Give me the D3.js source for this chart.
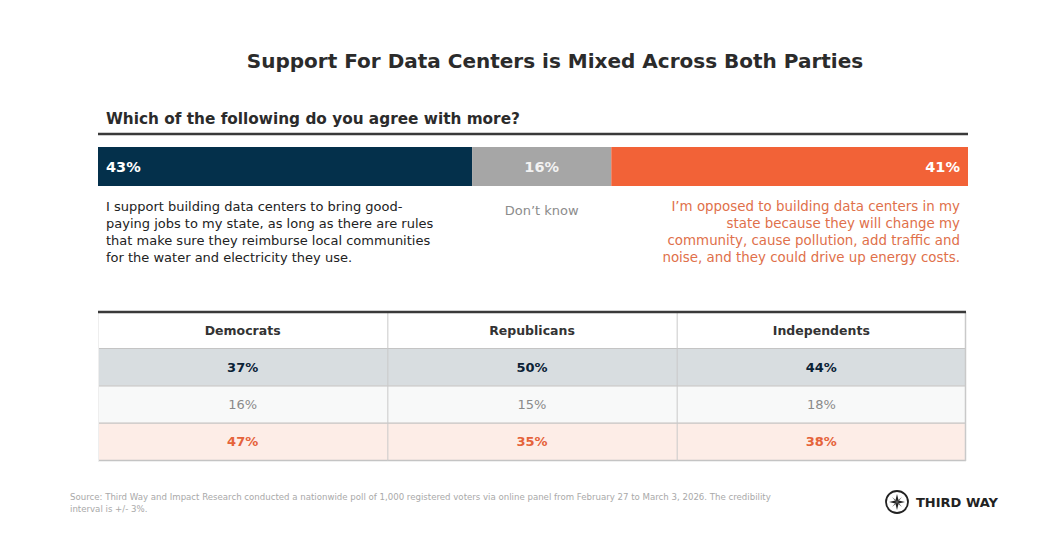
<!DOCTYPE html>
<html lang="en">
<head>
    <meta charset="utf-8" />
    <title>Support For Data Centers</title>
    <script src="https://d3js.org/d3.v7.min.js"></script>
    <style>
        body {
            margin: 0;
            padding: 0;
            background: #ffffff;
        }
        svg text {
            font-family: "DejaVu Sans", sans-serif;
        }
    </style>
</head>
<body>
<svg id="chart"></svg>
<script>
    var w = 1053;
    var h = 549;

    // Overall question results
    var answers = ["Support", "Don't know", "Oppose"];
    var overall = [43, 16, 41];
    var answerText = [
        ["I support building data centers to bring good-",
         "paying jobs to my state, as long as there are rules",
         "that make sure they reimburse local communities",
         "for the water and electricity they use."],
        ["Don\u2019t know"],
        ["I\u2019m opposed to building data centers in my",
         "state because they will change my",
         "community, cause pollution, add traffic and",
         "noise, and they could drive up energy costs."]
    ];

    // Party breakdown (support / don't know / oppose)
    var parties = ["Democrats", "Republicans", "Independents"];
    var democrats = [37, 16, 47];
    var republicans = [50, 15, 35];
    var independents = [44, 18, 38];

    var barColors = ["#04304b", "#a6a6a6", "#f26237"];
    var labelColors = ["#222222", "#8c8c8c", "#e0704a"];
    var rowFills = ["#d8dde0", "#f8f9f9", "#fdede7"];
    var rowText = ["#0b2236", "#8a8a8a", "#e5633a"];

    var svg = d3.select("#chart")
                .attr("width", w)
                .attr("height", h);

    // Title
    svg.append("text")
        .attr("x", 555)
        .attr("y", 68)
        .attr("text-anchor", "middle")
        .attr("font-size", "20px")
        .attr("font-weight", "bold")
        .attr("fill", "#2b2b2b")
        .text("Support For Data Centers is Mixed Across Both Parties");

    svg.append("text")
        .attr("x", 106)
        .attr("y", 124)
        .attr("font-size", "15.3px")
        .attr("font-weight", "bold")
        .attr("fill", "#2b2b2b")
        .text("Which of the following do you agree with more?");

    svg.append("line")
        .attr("x1", 98).attr("x2", 968)
        .attr("y1", 134).attr("y2", 134)
        .attr("stroke", "#3a3a3a")
        .attr("stroke-width", 2.5);

    // Stacked bar
    var xScale = d3.scaleLinear()
                .domain([0, d3.sum(overall)])
                .range([98, 968]);

    var stacked = [];
    var acc = 0;
    overall.forEach(function(v, i) {
        stacked.push({ name: answers[i], value: v, x0: acc, x1: acc + v, i: i });
        acc += v;
    });

    var barY = 147, barH = 39;

    svg.selectAll("rect.seg")
        .data(stacked)
        .enter().append("rect")
        .attr("class", "seg")
        .attr("x", function(d) { return xScale(d.x0); })
        .attr("y", barY)
        .attr("width", function(d) { return xScale(d.x1) - xScale(d.x0); })
        .attr("height", barH)
        .attr("fill", function(d) { return barColors[d.i]; });

    function labelX(d) {
        if (d.i === 0) return xScale(d.x0) + 8;
        if (d.i === 2) return xScale(d.x1) - 8;
        return (xScale(d.x0) + xScale(d.x1)) / 2;
    }
    function labelAnchor(d) {
        return d.i === 0 ? "start" : (d.i === 2 ? "end" : "middle");
    }

    svg.selectAll("text.seg")
        .data(stacked)
        .enter().append("text")
        .attr("class", "seg")
        .attr("x", labelX)
        .attr("y", barY + barH / 2 + 5)
        .attr("text-anchor", labelAnchor)
        .attr("font-size", "14.5px")
        .attr("font-weight", "bold")
        .attr("fill", function(d) { return d.i === 1 ? "#f2f2f2" : "#ffffff"; })
        .text(function(d) { return d.value + "%"; });

    // Answer descriptions under the bar
    var desc = svg.selectAll("text.desc")
        .data(stacked)
        .enter().append("text")
        .attr("class", "desc")
        .attr("text-anchor", labelAnchor)
        .attr("font-size", function(d) { return d.i === 2 ? "13.4px" : "13px"; })
        .attr("fill", function(d) { return labelColors[d.i]; });

    desc.selectAll("tspan")
        .data(function(d) {
            return answerText[d.i].map(function(t, k) { return { t: t, k: k, d: d }; });
        })
        .enter().append("tspan")
        .attr("x", function(e) { return labelX(e.d); })
        .attr("y", function(e) { return (e.d.i === 1 ? 215 : 211) + e.k * 17; })
        .text(function(e) { return e.t; });

    // Party table
    var rows = answers;
    var cols = d3.scaleBand()
                .domain(parties)
                .range([98, 966]);
    var rowScale = d3.scaleBand()
                .domain(rows)
                .range([348, 460]);

    var tableData = [];
    [democrats, republicans, independents].forEach(function(arr, c) {
        arr.forEach(function(v, r) {
            tableData.push({ party: parties[c], row: rows[r], r: r, value: v });
        });
    });

    // header
    svg.append("rect")
        .attr("x", 98).attr("y", 312)
        .attr("width", 868).attr("height", 36)
        .attr("fill", "#ffffff");

    svg.selectAll("rect.rowbg")
        .data(rows)
        .enter().append("rect")
        .attr("class", "rowbg")
        .attr("x", 98)
        .attr("y", function(d) { return rowScale(d); })
        .attr("width", 868)
        .attr("height", rowScale.bandwidth())
        .attr("fill", function(d, i) { return rowFills[i]; });

    // horizontal row lines
    svg.selectAll("line.hrow")
        .data(rows)
        .enter().append("line")
        .attr("class", "hrow")
        .attr("x1", 98).attr("x2", 966)
        .attr("y1", function(d) { return rowScale(d) + 0.5; })
        .attr("y2", function(d) { return rowScale(d) + 0.5; })
        .attr("stroke", "#c4c4c4")
        .attr("stroke-width", 1.2);

    svg.append("line")
        .attr("x1", 98).attr("x2", 966)
        .attr("y1", 460.5).attr("y2", 460.5)
        .attr("stroke", "#c4c4c4")
        .attr("stroke-width", 1.5);

    // vertical dividers
    svg.selectAll("line.vcol")
        .data(parties.slice(1))
        .enter().append("line")
        .attr("class", "vcol")
        .attr("x1", function(d) { return cols(d) + 0.5; })
        .attr("x2", function(d) { return cols(d) + 0.5; })
        .attr("y1", 312).attr("y2", 461)
        .attr("stroke", "#c9c9c9")
        .attr("stroke-width", 1);

    svg.append("line")
        .attr("x1", 965.5).attr("x2", 965.5)
        .attr("y1", 312).attr("y2", 461)
        .attr("stroke", "#c9c9c9")
        .attr("stroke-width", 1.5);

    svg.append("line")
        .attr("x1", 98.5).attr("x2", 98.5)
        .attr("y1", 312).attr("y2", 461)
        .attr("stroke", "#eeeeee")
        .attr("stroke-width", 1);

    svg.append("line")
        .attr("x1", 98).attr("x2", 966)
        .attr("y1", 312).attr("y2", 312)
        .attr("stroke", "#3a3a3a")
        .attr("stroke-width", 2.5);

    svg.selectAll("text.head")
        .data(parties)
        .enter().append("text")
        .attr("class", "head")
        .attr("x", function(d) { return cols(d) + cols.bandwidth() / 2; })
        .attr("y", 335)
        .attr("text-anchor", "middle")
        .attr("font-size", "12.5px")
        .attr("font-weight", "bold")
        .attr("fill", "#333333")
        .text(function(d) { return d; });

    svg.selectAll("text.cell")
        .data(tableData)
        .enter().append("text")
        .attr("class", "cell")
        .attr("x", function(d) { return cols(d.party) + cols.bandwidth() / 2; })
        .attr("y", function(d) { return rowScale(d.row) + rowScale.bandwidth() / 2 + 5; })
        .attr("text-anchor", "middle")
        .attr("font-size", "13px")
        .attr("font-weight", function(d) { return d.r === 1 ? "normal" : "bold"; })
        .attr("fill", function(d) { return rowText[d.r]; })
        .text(function(d) { return d.value + "%"; });

    // Source note
    var src = svg.append("text")
        .attr("font-size", "8.6px")
        .attr("fill", "#a9a9a9");
    src.append("tspan").attr("x", 70).attr("y", 500)
        .text("Source: Third Way and Impact Research conducted a nationwide poll of 1,000 registered voters via online panel from February 27 to March 3, 2026. The credibility");
    src.append("tspan").attr("x", 70).attr("y", 512)
        .text("interval is +/- 3%.");

    // Logo
    var logo = svg.append("g").attr("transform", "translate(897,502)");
    logo.append("circle")
        .attr("r", 11)
        .attr("fill", "none")
        .attr("stroke", "#222222")
        .attr("stroke-width", 1.8);
    logo.append("path")
        .attr("d", "M0,-8 L1.6,-1.6 L8,0 L1.6,1.6 L0,8 L-1.6,1.6 L-8,0 L-1.6,-1.6 Z")
        .attr("fill", "#222222");
    logo.append("path")
        .attr("d", "M-5,-5 L0,-1 L5,-5 L1,0 L5,5 L0,1 L-5,5 L-1,0 Z")
        .attr("fill", "#555555");
    svg.append("text")
        .attr("x", 916)
        .attr("y", 507)
        .attr("font-size", "13px")
        .attr("font-weight", "bold")
        .attr("fill", "#222222")
        .text("THIRD WAY");
</script>
</body>
</html>
